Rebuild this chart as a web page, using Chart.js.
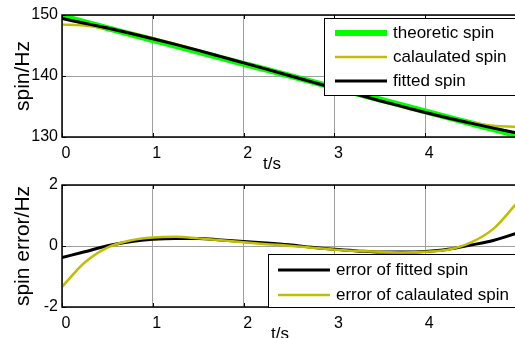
<!DOCTYPE html>
<html>
<head>
<meta charset="utf-8">
<script src="https://cdn.jsdelivr.net/npm/chart.js@4.4.1/dist/chart.umd.min.js"></script>
<style>
  html, body { margin: 0; padding: 0; background: #fff; overflow: hidden; }
  body { width: 515px; height: 338px; position: relative; }
  canvas { position: absolute; left: 0; }
  #top { top: 0; }
  #bottom { top: 170px; }
</style>
</head>
<body>
<canvas id="top" width="518" height="170"></canvas>
<canvas id="bottom" width="518" height="170"></canvas>
<script>
"use strict";

const TIME = [0, 0.25, 0.5, 0.75, 1, 1.25, 1.5, 1.75, 2, 2.25, 2.5,
              2.75, 3, 3.25, 3.5, 3.75, 4, 4.25, 4.5, 4.75, 5];
const THEORETIC_SPIN = [149.80, 148.83, 147.85, 146.88, 145.90, 144.93, 143.95,
                        142.98, 142.00, 141.03, 140.05, 139.08, 138.10, 137.13,
                        136.15, 135.18, 134.20, 133.23, 132.25, 131.28, 130.30];
const CALCULATED_SPIN = [148.46, 148.29, 147.80, 147.06, 146.18, 145.23, 144.20,
                         143.17, 142.12, 141.09, 140.06, 139.02, 137.98, 136.97,
                         135.96, 134.97, 134.01, 133.11, 132.36, 131.84, 131.67];
const FITTED_SPIN = [149.42, 148.64, 147.86, 147.02, 146.12, 145.18, 144.20,
                     143.18, 142.15, 141.13, 140.09, 139.04, 137.99, 136.97,
                     135.95, 134.98, 134.02, 133.12, 132.28, 131.46, 130.71];
const FITTED_ERROR = [-0.38, -0.19, 0.01, 0.14, 0.22, 0.25, 0.25, 0.20, 0.15, 0.10,
                      0.04, -0.04, -0.11, -0.16, -0.20, -0.20, -0.18, -0.11, 0.03,
                      0.18, 0.41];
const CALCULATED_ERROR = [-1.34, -0.54, -0.05, 0.18, 0.28, 0.30, 0.25, 0.19, 0.12,
                          0.06, 0.01, -0.06, -0.12, -0.16, -0.19, -0.21, -0.19,
                          -0.12, 0.11, 0.56, 1.37];

const X_TICKS = [0, 1, 2, 3, 4];
const SPIN_TICKS = [130, 140, 150];
const ERROR_TICKS = [-2, 0, 2];

const FONT = "'Liberation Sans', Arial, sans-serif";
const GREEN = "#00ff00";
const YELLOW = "#bfbf00";
const BLACK = "#000000";

function points(values) {
  return TIME.map((t, i) => ({x: t, y: values[i]}));
}

function line(label, values, color, width, order) {
  return {
    label: label,
    data: points(values),
    borderColor: color,
    borderWidth: width,
    pointRadius: 0,
    cubicInterpolationMode: "monotone",
    clip: 0,
    order: order
  };
}

// box, inward ticks, legend and axis labels, drawn like the matlab figure
const framePlugin = {
  id: "frame",
  afterDatasetsDraw(chart, args, opts) {
    const ctx = chart.ctx;
    const a = chart.chartArea;
    const xs = chart.scales.x;
    const ys = chart.scales.y;
    ctx.save();
    ctx.strokeStyle = BLACK;
    ctx.lineWidth = 1;
    ctx.beginPath();
    for (const v of X_TICKS) {
      const px = Math.round(xs.getPixelForValue(v)) + 0.5;
      ctx.moveTo(px, a.top);
      ctx.lineTo(px, a.top + 4);
      ctx.moveTo(px, a.bottom);
      ctx.lineTo(px, a.bottom - 4);
    }
    for (const t of ys.ticks) {
      const py = Math.round(ys.getPixelForValue(t.value)) + 0.5;
      ctx.moveTo(a.left, py);
      ctx.lineTo(a.left + 4, py);
    }
    ctx.stroke();
    ctx.lineWidth = 1.5;
    ctx.strokeRect(a.left, a.top, a.right - a.left, a.bottom - a.top);

    const lg = opts.legend;
    ctx.fillStyle = "#fff";
    ctx.fillRect(lg.box[0], lg.box[1], lg.box[2], lg.box[3]);
    ctx.lineWidth = 1;
    ctx.strokeRect(lg.box[0] + 0.5, lg.box[1] + 0.5, lg.box[2], lg.box[3]);
    ctx.font = "17px " + FONT;
    ctx.textBaseline = "middle";
    ctx.textAlign = "left";
    lg.rows.forEach((row, i) => {
      const ds = chart.data.datasets[row];
      const y = lg.firstRow + i * lg.rowStep;
      ctx.strokeStyle = ds.borderColor;
      ctx.lineWidth = ds.borderWidth;
      ctx.beginPath();
      ctx.moveTo(lg.lineX, y);
      ctx.lineTo(lg.lineX + 52, y);
      ctx.stroke();
      ctx.fillStyle = BLACK;
      ctx.fillText(ds.label, lg.lineX + 58, y);
    });

    ctx.fillStyle = BLACK;
    ctx.font = "17px " + FONT;
    ctx.textAlign = "center";
    ctx.fillText("t/s", opts.xLabelX, 164);
    ctx.font = "21px " + FONT;
    ctx.translate(23, (a.top + a.bottom) / 2);
    ctx.rotate(-Math.PI / 2);
    ctx.fillText(opts.yLabel, 0, 0);
    ctx.restore();
  }
};

function makeChart(canvasId, datasets, yMin, yMax, yTicks, frame) {
  const ctx = document.getElementById(canvasId).getContext("2d");
  return new Chart(ctx, {
    type: "line",
    data: {datasets: datasets},
    plugins: [framePlugin],
    options: {
      responsive: false,
      animation: false,
      devicePixelRatio: 1,
      layout: {padding: {top: 15, right: 2, left: 0, bottom: 0}},
      scales: {
        x: {
          type: "linear",
          min: 0,
          max: 5,
          afterBuildTicks: s => { s.ticks = X_TICKS.map(v => ({value: v})); },
          afterFit: s => { s.height = 33; },
          border: {display: false},
          grid: {color: "#a0a0a0", lineWidth: 1, drawTicks: false},
          ticks: {color: BLACK, font: {family: FONT, size: 16}, padding: 7,
                  labelOffset: 4, maxRotation: 0}
        },
        y: {
          min: yMin,
          max: yMax,
          afterBuildTicks: s => { s.ticks = yTicks.map(v => ({value: v})); },
          afterFit: s => { s.width = 62; },
          border: {display: false},
          grid: {color: "#a0a0a0", lineWidth: 1, drawTicks: false},
          ticks: {color: BLACK, font: {family: FONT, size: 16}, padding: 4}
        }
      },
      plugins: {
        legend: {display: false},
        tooltip: {enabled: false},
        frame: frame
      }
    }
  });
}

window.addEventListener("load", function() {
  makeChart("top", [
    line("theoretic spin", THEORETIC_SPIN, GREEN, 6, 3),
    line("calaulated spin", CALCULATED_SPIN, YELLOW, 2.5, 2),
    line("fitted spin", FITTED_SPIN, BLACK, 3, 1)
  ], 130, 150, SPIN_TICKS, {
    legend: {box: [324, 18, 200, 77], rows: [0, 1, 2], firstRow: 33, rowStep: 24,
             lineX: 335},
    xLabelX: 272,
    yLabel: "spin/Hz"
  });

  makeChart("bottom", [
    line("error of fitted spin", FITTED_ERROR, BLACK, 3, 2),
    line("error of calaulated spin", CALCULATED_ERROR, YELLOW, 2.5, 1)
  ], -2, 2, ERROR_TICKS, {
    legend: {box: [268, 84, 260, 53], rows: [0, 1], firstRow: 100, rowStep: 25,
             lineX: 278},
    xLabelX: 280,
    yLabel: "spin error/Hz"
  });
});
</script>
</body>
</html>
